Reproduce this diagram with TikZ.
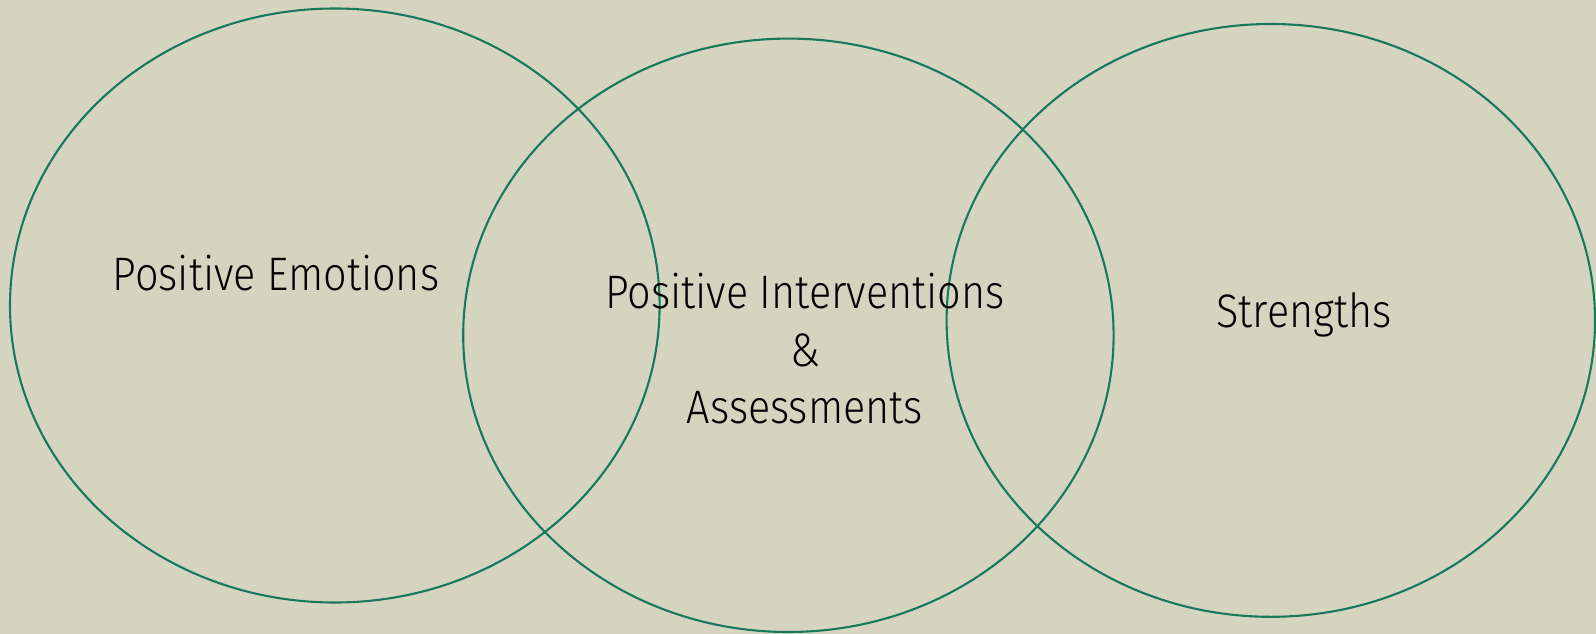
\documentclass[tikz,border=0pt]{standalone}
\usepackage{fontspec}
\setmainfont[FakeStretch=0.88]{Fira Sans Light}
\definecolor{bgcol}{HTML}{D5D5BF}
\definecolor{ringcol}{HTML}{17785B}
\begin{document}
\begin{tikzpicture}[x=1pt,y=-1pt,
  ring/.style={draw=ringcol,line width=2.1pt},
  lbl/.style={font=\fontsize{47}{57.5}\selectfont,text=black,inner sep=0pt,align=center}]
\fill[bgcol] (0,0) rectangle (1596,634);
\useasboundingbox (0,0) rectangle (1596,634);
% three overlapping rings
\draw[ring] (334.8,305.5) ellipse [x radius=324.8, y radius=297];
\draw[ring] (788.4,335.3) ellipse [x radius=325.2, y radius=296.7];
\draw[ring] (1270.8,320.4) ellipse [x radius=324.2, y radius=296.4];
% labels
\node[lbl,anchor=base] (emo) at (276,290) {Positive Emotions};
\node[lbl,anchor=center] (pia) at (805,349) {Positive Interventions\\\&\\Assessments};
\node[lbl,anchor=base] (str) at (1304,327) {Strengths};
\end{tikzpicture}
\end{document}
